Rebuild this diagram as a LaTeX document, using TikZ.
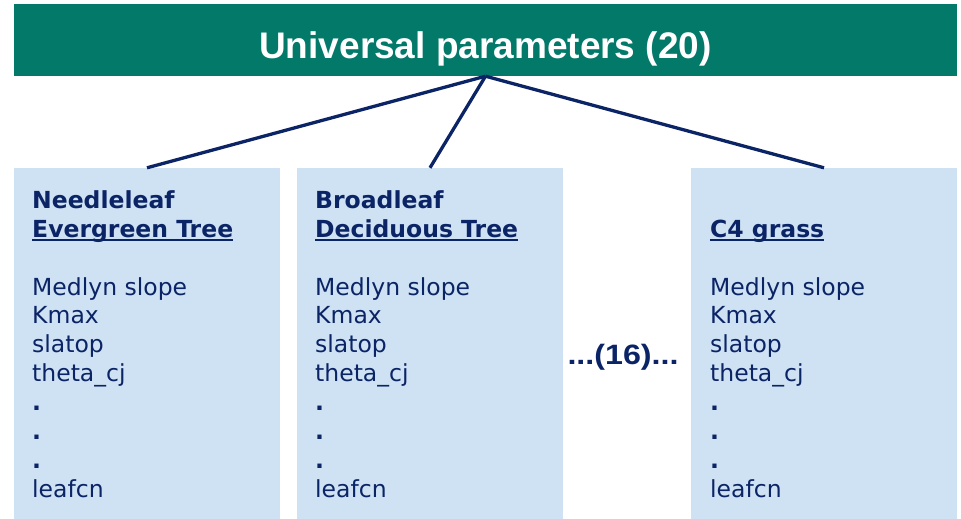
\documentclass[tikz,border=0pt]{standalone}
\usepackage{fontspec}
\newfontfamily\boxfont{DejaVu Sans}
\newfontfamily\titlefont{Liberation Sans}
\definecolor{bannerteal}{RGB}{3,121,106}
\definecolor{pftblue}{RGB}{207,226,243}
\definecolor{navy}{RGB}{11,36,102}
\newcommand\myul[1]{\setbox0\hbox{#1}\rlap{\rule[-4.3pt]{\wd0}{2.3pt}}\box0}
\newcommand\sqdot{{\bfseries .}}
\tikzset{
  banner/.style={fill=bannerteal, minimum width=943pt, minimum height=72pt, inner sep=0pt},
  titletext/.style={text=white, inner sep=0pt, font=\titlefont\bfseries\fontsize{37}{40}\selectfont},
  pftbox/.style={fill=pftblue, minimum width=266pt, minimum height=351pt, inner sep=0pt},
  link/.style={draw=navy, line width=3.3pt},
  pfttext/.style={text=navy, inner sep=0pt, anchor=base west, font=\boxfont\fontsize{23.5}{29}\selectfont},
  pfthead/.style={pfttext, font=\boxfont\bfseries\fontsize{23.5}{29}\selectfont},
  moretext/.style={text=navy, inner sep=0pt, anchor=base, font=\titlefont\bfseries\fontsize{28}{30}\selectfont}
}
\begin{document}
\begin{tikzpicture}[x=1pt,y=-1pt]
\useasboundingbox (0,0) rectangle (961,519);
\node[banner] (top) at (485.5,40) {};
\node[titletext, anchor=base] (title) at (485.5,59) {Universal parameters (20)};
\node[pftbox] (b1) at (147,343.5) {};
\node[pftbox] (b2) at (430,343.5) {};
\node[pftbox] (b3) at (824,343.5) {};
\draw[link] (top.south) -- (b1.north);
\draw[link] (top.south) -- (b2.north);
\draw[link] (top.south) -- (b3.north);
% headers
\node[pfthead] (h1a) at (32,208) {Needleleaf};
\node[pfthead] (h1b) at (32,237) {\myul{Evergreen Tree}};
\node[pfthead] (h2a) at (315,208) {Broadleaf};
\node[pfthead] (h2b) at (315,237) {\myul{Deciduous Tree}};
\node[pfthead] (h3b) at (710,237) {\myul{C4 grass}};
% parameter lists
\foreach \bx/\xx in {1/32,2/315,3/710}{
  \foreach \k/\t in {0/Medlyn slope,1/Kmax,2/slatop,3/theta\_cj,4/\sqdot,5/\sqdot,6/\sqdot,7/leafcn}{
    \node[pfttext] (p\bx-\k) at (\xx,{295+28.9*\k}) {\t};
  }
}
\node[moretext] (more) at (623,364) {\scalebox{1.15}[1]{...(16)...}};
\end{tikzpicture}
\end{document}
